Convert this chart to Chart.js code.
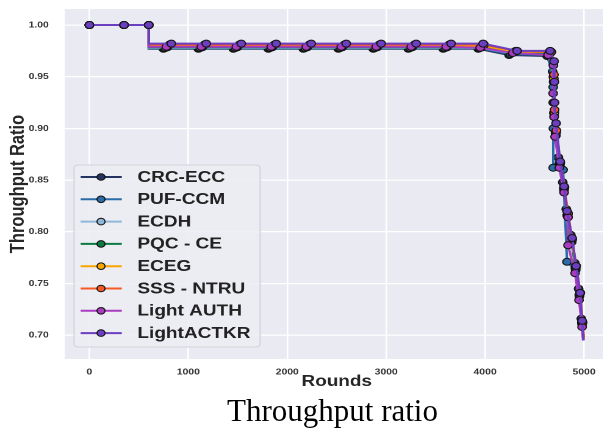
<!DOCTYPE html>
<html><head><meta charset="utf-8">
<script src="https://cdn.jsdelivr.net/npm/chart.js@4/dist/chart.umd.min.js"></script>
<style>
html,body{margin:0;padding:0;background:#fff;overflow:hidden;width:603px;height:428px;position:relative;}
#wrap{position:absolute;left:0;top:0;width:500px;height:428px;transform:scaleX(1.22);transform-origin:0 0;}
#caption{position:absolute;left:31px;width:603px;top:395px;line-height:31px;text-align:center;font-family:'Liberation Serif','Times New Roman',serif;font-size:31px;color:#000;white-space:nowrap;}
</style>
</head><body>
<div id="wrap"><canvas id="c" width="500" height="428"></canvas></div>
<div id="caption">Throughput ratio</div>
<script>
const seriesNames = ['CRC-ECC','PUF-CCM','ECDH','PQC - CE','ECEG','SSS - NTRU','Light AUTH','LightACTKR'];
const seriesColors = ['#24335f','#2b6ca8','#8fb8d8','#0b7a45','#f9a602','#f65a24','#a93cc0','#6b3fc0'];
const xTicks = [0,1000,2000,3000,4000,5000];
const yTicks = [0.70,0.75,0.80,0.85,0.90,0.95,1.00];

const roundsCRC = [0,350,600,600,748,1101,1455,1808,2162,2516,2869,3223,3576,3930,4242,4626,4682,4688,4695,4740,4785,4820,4866,4905,4945,4972,4990];
const valuesCRC = [1,1,1,0.977,0.977,0.977,0.977,0.977,0.977,0.977,0.977,0.977,0.977,0.977,0.971,0.970,0.955,0.925,0.900,0.872,0.848,0.822,0.797,0.770,0.745,0.716,0.698];

const roundsPUF = [0,350,600,600,758,1111,1465,1818,2172,2526,2879,3233,3586,3940,4255,4640,4688,4690,4688,4788,4828,4915,4952,4978,4992];
const valuesPUF = [1,1,1,0.9775,0.9775,0.9775,0.9775,0.9775,0.9775,0.9775,0.9775,0.9775,0.9775,0.9775,0.972,0.971,0.940,0.900,0.862,0.860,0.771,0.763,0.738,0.712,0.698];

const roundsECDH = [0,350,600,600,768,1121,1475,1828,2182,2536,2889,3243,3596,3950,4270,4650,4690,4695,4712,4752,4795,4830,4872,4912,4952,4978,4994];
const valuesECDH = [1,1,1,0.978,0.978,0.978,0.978,0.978,0.978,0.978,0.978,0.978,0.978,0.978,0.973,0.972,0.950,0.915,0.895,0.866,0.842,0.816,0.792,0.765,0.739,0.712,0.697];

const roundsPQC = [0,350,600,600,788,1141,1495,1848,2202,2556,2909,3263,3616,3970,4290,4660,4692,4698,4715,4755,4797,4833,4875,4915,4955,4980,4995];
const valuesPQC = [1,1,1,0.9785,0.9785,0.9785,0.9785,0.9785,0.9785,0.9785,0.9785,0.9785,0.9785,0.9785,0.974,0.973,0.945,0.912,0.893,0.864,0.840,0.815,0.790,0.764,0.738,0.711,0.696];

const roundsECEG = [0,350,600,600,798,1151,1505,1858,2212,2566,2919,3273,3626,3980,4300,4665,4695,4700,4718,4758,4800,4836,4878,4918,4958,4982,4997];
const valuesECEG = [1,1,1,0.980,0.980,0.980,0.980,0.980,0.980,0.980,0.980,0.980,0.980,0.980,0.974,0.974,0.948,0.915,0.896,0.866,0.842,0.817,0.792,0.766,0.740,0.713,0.697];

const roundsSSS = [0,350,600,600,808,1161,1515,1868,2222,2576,2929,3283,3636,3990,4310,4670,4696,4702,4720,4760,4802,4838,4880,4920,4962,4985,4998];
const valuesSSS = [1,1,1,0.981,0.981,0.981,0.981,0.981,0.981,0.981,0.981,0.981,0.981,0.981,0.975,0.974,0.952,0.918,0.898,0.867,0.843,0.818,0.793,0.767,0.741,0.712,0.698];

const roundsLAUTH = [0,350,600,600,778,1131,1485,1838,2192,2546,2899,3253,3606,3950,4280,4636,4690,4687,4697,4707,4750,4798,4838,4838,4909,4949,4980,4990];
const valuesLAUTH = [1,1,1,0.979,0.979,0.979,0.979,0.979,0.979,0.979,0.979,0.979,0.979,0.978,0.973,0.971,0.961,0.934,0.911,0.892,0.862,0.838,0.814,0.787,0.760,0.734,0.708,0.695];

const roundsLACT = [0,350,600,600,828,1181,1535,1888,2242,2596,2949,3303,3656,3980,4323,4657,4697,4700,4702,4717,4758,4798,4828,4879,4919,4960,4980,4995];
const valuesLACT = [1,1,1,0.982,0.982,0.982,0.982,0.982,0.982,0.982,0.982,0.982,0.982,0.982,0.975,0.975,0.965,0.945,0.925,0.905,0.868,0.844,0.820,0.794,0.767,0.741,0.714,0.695];

const allRounds = [roundsCRC,roundsPUF,roundsECDH,roundsPQC,roundsECEG,roundsSSS,roundsLAUTH,roundsLACT];
const allValues = [valuesCRC,valuesPUF,valuesECDH,valuesPQC,valuesECEG,valuesSSS,valuesLAUTH,valuesLACT];

const datasets = seriesNames.map((name, i) => ({
  label: name,
  data: allRounds[i].map((r, k) => ({x: r, y: allValues[i][k]})),
  borderColor: seriesColors[i],
  backgroundColor: seriesColors[i],
  pointBackgroundColor: seriesColors[i],
  pointBorderColor: '#151515',
  pointBorderWidth: 1,
  borderWidth: 2,
  pointRadius: ctx => (ctx.dataIndex === 3 || ctx.dataIndex === allRounds[i].length - 1) ? 0 : 3.5,
  tension: 0,
  order: seriesNames.length - i
}));

const bgPlugin = {
  id: 'bg',
  beforeDraw(chart) {
    const {ctx, chartArea: a} = chart;
    ctx.save();
    ctx.fillStyle = '#eaeaf2';
    ctx.fillRect(a.left, a.top, a.right - a.left, a.bottom - a.top);
    ctx.restore();
  }
};

const legendPlugin = {
  id: 'customLegend',
  afterDraw(chart) {
    const ctx = chart.ctx;
    const bx = 60.7, by = 165, bw = 152.5, bh = 182, r = 3;
    ctx.save();
    ctx.beginPath();
    ctx.moveTo(bx + r, by);
    ctx.arcTo(bx + bw, by, bx + bw, by + bh, r);
    ctx.arcTo(bx + bw, by + bh, bx, by + bh, r);
    ctx.arcTo(bx, by + bh, bx, by, r);
    ctx.arcTo(bx, by, bx + bw, by, r);
    ctx.closePath();
    ctx.fillStyle = 'rgba(236,236,243,0.85)';
    ctx.fill();
    ctx.strokeStyle = '#d2d2d8';
    ctx.lineWidth = 1;
    ctx.stroke();
    chart.data.datasets.forEach((ds, i) => {
      const y = 177 + i * 22.3;
      ctx.strokeStyle = ds.borderColor;
      ctx.lineWidth = 2;
      ctx.beginPath();
      ctx.moveTo(66.1, y);
      ctx.lineTo(99.8, y);
      ctx.stroke();
      ctx.beginPath();
      ctx.arc(82.8, y, 3.3, 0, Math.PI * 2);
      ctx.fillStyle = ds.borderColor;
      ctx.fill();
      ctx.strokeStyle = '#151515';
      ctx.lineWidth = 1;
      ctx.stroke();
      ctx.fillStyle = '#222222';
      ctx.font = "bold 15.6px 'Liberation Sans', Arial, sans-serif";
      ctx.textBaseline = 'middle';
      ctx.textAlign = 'left';
      ctx.fillText(ds.label, 112.6, y + 0.5);
    });
    ctx.restore();
  }
};

const tickFont = {family: "'Liberation Sans', Arial, sans-serif", size: 8.5, weight: 'bold'};
const titleFont = {family: "'Liberation Sans', Arial, sans-serif", size: 15.5, weight: 'bold'};
const yTitleFont = {family: "'Liberation Sans', Arial, sans-serif", size: 16.5, weight: 'bold'};

new Chart(document.getElementById('c'), {
  type: 'line',
  data: {datasets},
  options: {
    responsive: false,
    animation: false,
    devicePixelRatio: 2,
    layout: {autoPadding: false, padding: {left: 0, right: 1, top: 9, bottom: 0}},
    plugins: {legend: {display: false}, tooltip: {enabled: false}},
    scales: {
      x: {
        type: 'linear',
        min: -250, max: 5250,
        afterBuildTicks: s => { s.ticks = xTicks.map(v => ({value: v})); },
        afterFit: s => { s.height = 69; s.paddingLeft = 0; s.paddingRight = 0; },
        ticks: {font: tickFont, color: '#333', padding: 8, callback: v => String(v), maxRotation: 0},
        grid: {color: '#ffffff', lineWidth: 1.3, drawTicks: false},
        border: {display: false},
        title: {display: true, text: 'Rounds', font: titleFont, color: '#262626', padding: {top: 0, bottom: 37}}
      },
      y: {
        type: 'linear',
        min: 0.677, max: 1.0155,
        afterBuildTicks: s => { s.ticks = yTicks.map(v => ({value: v})); },
        afterFit: s => { s.width = 53; s.paddingTop = 0; s.paddingBottom = 0; },
        ticks: {font: tickFont, color: '#333', padding: 13, callback: v => v.toFixed(2)},
        grid: {color: '#ffffff', lineWidth: 1.3, drawTicks: false},
        border: {display: false},
        title: {display: true, text: 'Throughput Ratio', font: yTitleFont, color: '#262626', padding: {top: 5, bottom: 0}}
      }
    }
  },
  plugins: [bgPlugin, legendPlugin]
});
</script>
</body></html>
